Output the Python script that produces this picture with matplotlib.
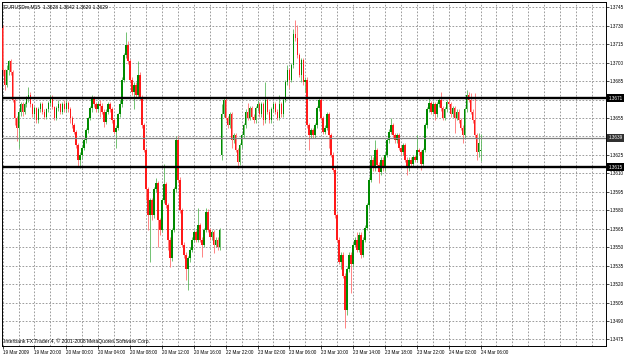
import matplotlib
matplotlib.use("Agg")
import matplotlib.pyplot as plt
import numpy as np

title = "EURUSDm,M15  1.3628 1.3642 1.3620 1.3629"
footer = "Interbank FX Trader 4, \u00a9 2001-2008 MetaQuotes Software Corp."

time_labels = ["19 Mar 2009", "19 Mar 20:00", "20 Mar 00:00", "20 Mar 04:00",
               "20 Mar 08:00", "20 Mar 12:00", "20 Mar 16:00", "22 Mar 22:00",
               "23 Mar 02:00", "23 Mar 06:00", "23 Mar 10:00", "23 Mar 14:00",
               "23 Mar 18:00", "23 Mar 22:00", "24 Mar 02:00", "24 Mar 06:00"]

# M15 candles
opens = [
    1.3728, 1.3694, 1.3682, 1.3694, 1.3701, 1.3692, 1.3670, 1.3655, 1.3647, 1.3660,
    1.3666, 1.3660, 1.3666, 1.3671, 1.3674, 1.3666, 1.3658, 1.3663, 1.3653, 1.3662,
    1.3666, 1.3660, 1.3656, 1.3662, 1.3667, 1.3672, 1.3664, 1.3655, 1.3663, 1.3666,
    1.3660, 1.3666, 1.3662, 1.3667, 1.3662, 1.3655, 1.3649, 1.3644, 1.3633, 1.3621,
    1.3625, 1.3631, 1.3637, 1.3645, 1.3655, 1.3663, 1.3671, 1.3666, 1.3662, 1.3666,
    1.3665, 1.3660, 1.3652, 1.3660, 1.3666, 1.3662, 1.3653, 1.3644, 1.3647, 1.3658,
    1.3666, 1.3686, 1.3706, 1.3714, 1.3701, 1.3686, 1.3676, 1.3682, 1.3674, 1.3690,
    1.3672, 1.3649, 1.3629, 1.3597, 1.3576, 1.3588, 1.3576, 1.3597, 1.3602, 1.3572,
    1.3564, 1.3588, 1.3601, 1.3584, 1.3556, 1.3541, 1.3564, 1.3597, 1.3637, 1.3605,
    1.3580, 1.3552, 1.3544, 1.3532, 1.3541, 1.3548, 1.3556, 1.3562, 1.3556, 1.3568,
    1.3556, 1.3552, 1.3564, 1.3579, 1.3564, 1.3558, 1.3562, 1.3552, 1.3556, 1.3550,
    1.3625, 1.3658, 1.3670, 1.3655, 1.3649, 1.3658, 1.3637, 1.3641, 1.3629, 1.3619,
    1.3633, 1.3641, 1.3649, 1.3660, 1.3655, 1.3663, 1.3656, 1.3653, 1.3663, 1.3666,
    1.3658, 1.3666, 1.3653, 1.3670, 1.3660, 1.3653, 1.3662, 1.3666, 1.3660, 1.3655,
    1.3666, 1.3658, 1.3670, 1.3684, 1.3694, 1.3686, 1.3698, 1.3723, 1.3720, 1.3706,
    1.3690, 1.3702, 1.3684, 1.3686, 1.3649, 1.3641, 1.3645, 1.3641, 1.3649, 1.3663,
    1.3670, 1.3655, 1.3644, 1.3647, 1.3658, 1.3641, 1.3625, 1.3613, 1.3576, 1.3556,
    1.3538, 1.3544, 1.3527, 1.3499, 1.3532, 1.3544, 1.3536, 1.3552, 1.3556, 1.3548,
    1.3560, 1.3544, 1.3556, 1.3566, 1.3584, 1.3605, 1.3621, 1.3614, 1.3629, 1.3617,
    1.3611, 1.3621, 1.3614, 1.3625, 1.3637, 1.3644, 1.3649, 1.3641, 1.3637, 1.3641,
    1.3631, 1.3627, 1.3633, 1.3621, 1.3614, 1.3621, 1.3618, 1.3623, 1.3621, 1.3629,
    1.3627, 1.3618, 1.3629, 1.3649, 1.3662, 1.3667, 1.3660, 1.3666, 1.3658, 1.3666,
    1.3670, 1.3663, 1.3655, 1.3662, 1.3668, 1.3666, 1.3658, 1.3663, 1.3655, 1.3660,
    1.3653, 1.3647, 1.3641, 1.3662, 1.3674, 1.3670, 1.3660, 1.3653, 1.3641, 1.3627,
    1.3628]
highs = [
    1.3731, 1.3695, 1.3698, 1.3702, 1.3703, 1.3694, 1.3672, 1.3657, 1.3662, 1.3668,
    1.3668, 1.3668, 1.3673, 1.3680, 1.3676, 1.3667, 1.3665, 1.3664, 1.3664, 1.3668,
    1.3668, 1.3662, 1.3663, 1.3669, 1.3674, 1.3674, 1.3665, 1.3665, 1.3670, 1.3667,
    1.3668, 1.3670, 1.3670, 1.3669, 1.3664, 1.3657, 1.3651, 1.3645, 1.3635, 1.3627,
    1.3633, 1.3639, 1.3647, 1.3656, 1.3665, 1.3674, 1.3673, 1.3668, 1.3669, 1.3670,
    1.3667, 1.3662, 1.3662, 1.3668, 1.3668, 1.3664, 1.3655, 1.3649, 1.3659, 1.3670,
    1.3688, 1.3708, 1.3725, 1.3718, 1.3703, 1.3688, 1.3684, 1.3684, 1.3701, 1.3692,
    1.3674, 1.3651, 1.3631, 1.3599, 1.3590, 1.3590, 1.3599, 1.3606, 1.3604, 1.3574,
    1.3590, 1.3618, 1.3603, 1.3586, 1.3558, 1.3566, 1.3599, 1.3640, 1.3640, 1.3607,
    1.3582, 1.3554, 1.3546, 1.3543, 1.3550, 1.3558, 1.3564, 1.3564, 1.3582, 1.3570,
    1.3558, 1.3566, 1.3582, 1.3581, 1.3566, 1.3564, 1.3564, 1.3558, 1.3558, 1.3566,
    1.3666, 1.3672, 1.3672, 1.3657, 1.3660, 1.3660, 1.3643, 1.3643, 1.3631, 1.3635,
    1.3643, 1.3651, 1.3662, 1.3667, 1.3665, 1.3665, 1.3658, 1.3665, 1.3670, 1.3668,
    1.3668, 1.3668, 1.3684, 1.3672, 1.3662, 1.3664, 1.3668, 1.3668, 1.3662, 1.3674,
    1.3668, 1.3672, 1.3686, 1.3698, 1.3696, 1.3700, 1.3727, 1.3735, 1.3731, 1.3708,
    1.3704, 1.3704, 1.3688, 1.3688, 1.3651, 1.3647, 1.3647, 1.3651, 1.3665, 1.3672,
    1.3672, 1.3657, 1.3649, 1.3660, 1.3660, 1.3643, 1.3627, 1.3615, 1.3578, 1.3558,
    1.3546, 1.3546, 1.3529, 1.3534, 1.3546, 1.3546, 1.3554, 1.3558, 1.3562, 1.3562,
    1.3562, 1.3558, 1.3568, 1.3586, 1.3607, 1.3625, 1.3623, 1.3637, 1.3631, 1.3619,
    1.3623, 1.3623, 1.3627, 1.3639, 1.3646, 1.3655, 1.3651, 1.3643, 1.3643, 1.3643,
    1.3633, 1.3635, 1.3635, 1.3623, 1.3623, 1.3623, 1.3625, 1.3625, 1.3641, 1.3631,
    1.3629, 1.3631, 1.3651, 1.3664, 1.3671, 1.3669, 1.3668, 1.3668, 1.3668, 1.3672,
    1.3676, 1.3665, 1.3664, 1.3670, 1.3672, 1.3668, 1.3665, 1.3665, 1.3662, 1.3662,
    1.3655, 1.3649, 1.3664, 1.3678, 1.3676, 1.3675, 1.3662, 1.3675, 1.3643, 1.3643,
    1.3642]
lows = [
    1.3690, 1.3678, 1.3680, 1.3690, 1.3690, 1.3668, 1.3649, 1.3636, 1.3631, 1.3657,
    1.3657, 1.3658, 1.3664, 1.3668, 1.3664, 1.3656, 1.3655, 1.3651, 1.3651, 1.3660,
    1.3658, 1.3654, 1.3654, 1.3660, 1.3665, 1.3662, 1.3653, 1.3653, 1.3661, 1.3658,
    1.3658, 1.3660, 1.3660, 1.3660, 1.3651, 1.3647, 1.3642, 1.3631, 1.3615, 1.3614,
    1.3622, 1.3629, 1.3635, 1.3643, 1.3653, 1.3660, 1.3664, 1.3660, 1.3660, 1.3656,
    1.3658, 1.3648, 1.3650, 1.3658, 1.3660, 1.3651, 1.3642, 1.3631, 1.3645, 1.3656,
    1.3664, 1.3684, 1.3704, 1.3699, 1.3684, 1.3674, 1.3662, 1.3671, 1.3672, 1.3670,
    1.3647, 1.3627, 1.3588, 1.3564, 1.3538, 1.3572, 1.3574, 1.3595, 1.3550, 1.3560,
    1.3562, 1.3586, 1.3582, 1.3548, 1.3534, 1.3539, 1.3562, 1.3595, 1.3603, 1.3578,
    1.3550, 1.3541, 1.3523, 1.3515, 1.3538, 1.3546, 1.3554, 1.3554, 1.3554, 1.3554,
    1.3542, 1.3550, 1.3562, 1.3562, 1.3556, 1.3556, 1.3545, 1.3550, 1.3548, 1.3548,
    1.3621, 1.3656, 1.3653, 1.3647, 1.3647, 1.3631, 1.3635, 1.3627, 1.3614, 1.3617,
    1.3631, 1.3639, 1.3647, 1.3653, 1.3653, 1.3654, 1.3651, 1.3651, 1.3661, 1.3656,
    1.3656, 1.3649, 1.3651, 1.3658, 1.3651, 1.3651, 1.3660, 1.3658, 1.3653, 1.3653,
    1.3656, 1.3656, 1.3668, 1.3682, 1.3679, 1.3684, 1.3696, 1.3718, 1.3704, 1.3688,
    1.3684, 1.3682, 1.3676, 1.3647, 1.3629, 1.3639, 1.3639, 1.3639, 1.3647, 1.3661,
    1.3653, 1.3642, 1.3642, 1.3645, 1.3631, 1.3623, 1.3611, 1.3574, 1.3554, 1.3536,
    1.3532, 1.3525, 1.3484, 1.3495, 1.3530, 1.3513, 1.3534, 1.3550, 1.3546, 1.3546,
    1.3541, 1.3542, 1.3554, 1.3564, 1.3582, 1.3603, 1.3612, 1.3612, 1.3615, 1.3602,
    1.3609, 1.3612, 1.3612, 1.3623, 1.3635, 1.3642, 1.3639, 1.3635, 1.3635, 1.3629,
    1.3625, 1.3625, 1.3619, 1.3609, 1.3612, 1.3616, 1.3616, 1.3619, 1.3619, 1.3625,
    1.3613, 1.3616, 1.3627, 1.3647, 1.3660, 1.3658, 1.3658, 1.3653, 1.3656, 1.3664,
    1.3661, 1.3653, 1.3653, 1.3660, 1.3664, 1.3656, 1.3656, 1.3643, 1.3653, 1.3651,
    1.3645, 1.3635, 1.3639, 1.3660, 1.3668, 1.3658, 1.3651, 1.3639, 1.3621, 1.3623,
    1.3620]
closes = [
    1.3694, 1.3682, 1.3694, 1.3701, 1.3692, 1.3670, 1.3655, 1.3647, 1.3660, 1.3666,
    1.3660, 1.3666, 1.3671, 1.3674, 1.3666, 1.3658, 1.3663, 1.3653, 1.3662, 1.3666,
    1.3660, 1.3656, 1.3662, 1.3667, 1.3672, 1.3664, 1.3655, 1.3663, 1.3666, 1.3660,
    1.3666, 1.3662, 1.3667, 1.3662, 1.3655, 1.3649, 1.3644, 1.3633, 1.3621, 1.3625,
    1.3631, 1.3637, 1.3645, 1.3655, 1.3663, 1.3671, 1.3666, 1.3662, 1.3666, 1.3665,
    1.3660, 1.3652, 1.3660, 1.3666, 1.3662, 1.3653, 1.3644, 1.3647, 1.3658, 1.3666,
    1.3686, 1.3706, 1.3714, 1.3701, 1.3686, 1.3676, 1.3682, 1.3674, 1.3690, 1.3672,
    1.3649, 1.3629, 1.3597, 1.3576, 1.3588, 1.3576, 1.3597, 1.3602, 1.3572, 1.3564,
    1.3588, 1.3601, 1.3584, 1.3556, 1.3541, 1.3564, 1.3597, 1.3637, 1.3605, 1.3580,
    1.3552, 1.3544, 1.3532, 1.3541, 1.3548, 1.3556, 1.3562, 1.3556, 1.3568, 1.3556,
    1.3552, 1.3564, 1.3579, 1.3564, 1.3558, 1.3562, 1.3552, 1.3556, 1.3550, 1.3564,
    1.3658, 1.3670, 1.3655, 1.3649, 1.3658, 1.3637, 1.3641, 1.3629, 1.3619, 1.3633,
    1.3641, 1.3649, 1.3660, 1.3655, 1.3663, 1.3656, 1.3653, 1.3663, 1.3666, 1.3658,
    1.3666, 1.3653, 1.3670, 1.3660, 1.3653, 1.3662, 1.3666, 1.3660, 1.3655, 1.3666,
    1.3658, 1.3670, 1.3684, 1.3694, 1.3686, 1.3698, 1.3723, 1.3720, 1.3706, 1.3690,
    1.3702, 1.3684, 1.3686, 1.3649, 1.3641, 1.3645, 1.3641, 1.3649, 1.3663, 1.3670,
    1.3655, 1.3644, 1.3647, 1.3658, 1.3641, 1.3625, 1.3613, 1.3576, 1.3556, 1.3538,
    1.3544, 1.3527, 1.3499, 1.3532, 1.3544, 1.3536, 1.3552, 1.3556, 1.3548, 1.3560,
    1.3544, 1.3556, 1.3566, 1.3584, 1.3605, 1.3621, 1.3614, 1.3629, 1.3617, 1.3611,
    1.3621, 1.3614, 1.3625, 1.3637, 1.3644, 1.3649, 1.3641, 1.3637, 1.3641, 1.3631,
    1.3627, 1.3633, 1.3621, 1.3614, 1.3621, 1.3618, 1.3623, 1.3621, 1.3629, 1.3627,
    1.3618, 1.3629, 1.3649, 1.3662, 1.3667, 1.3660, 1.3666, 1.3658, 1.3666, 1.3670,
    1.3663, 1.3655, 1.3662, 1.3668, 1.3666, 1.3658, 1.3663, 1.3655, 1.3660, 1.3653,
    1.3647, 1.3641, 1.3662, 1.3674, 1.3670, 1.3660, 1.3653, 1.3641, 1.3627, 1.3635,
    1.3629]

resistance = 1.3671
support = 1.3615
bid = 1.3639

price_ticks = [1.3475 + 0.0015 * k for k in range(19)]

plt.rcParams['font.family'] = ['Liberation Sans', 'DejaVu Sans']
FS = 3.3

o = np.array(opens)
h = np.array(highs)
l = np.array(lows)
c = np.array(closes)
x = np.arange(len(c))
up = c >= o
dn = ~up

fig = plt.figure(figsize=(6.25, 3.55), dpi=100)
ax = fig.add_axes([2 / 625, 9 / 355, 604 / 625, 344 / 355])
ax.set_xlim(-0.3, 303)
ax.set_ylim(1.34697, 1.37493)

# candles
ax.vlines(x[up], l[up], h[up], colors='#5cb85c', lw=0.6, zorder=3)
ax.vlines(x[dn], l[dn], h[dn], colors='#ff7070', lw=0.6, zorder=3)
body = np.maximum(np.abs(c - o), 0.00004)
ax.bar(x[up], body[up], bottom=o[up], width=0.8, color='#008a00', lw=0, zorder=4)
ax.bar(x[dn], body[dn], bottom=c[dn], width=0.8, color='#ff1a1a', lw=0, zorder=4)

# level lines
ax.axhline(resistance, color='black', lw=1.7, zorder=5)
ax.axhline(support, color='black', lw=1.7, zorder=5)
ax.axhline(bid, color='#808080', lw=0.9, zorder=5)

# grid
ax.set_yticks(price_ticks)
ax.set_yticklabels(["" if abs(p - resistance) < 0.0003 or abs(p - bid) < 0.0003
                    else "%.4f" % p for p in price_ticks])
ax.set_xticks(range(0, 16 * len(time_labels), 16))
ax.set_xticklabels(time_labels, ha='left')
ax.set_xticks(range(8, 304, 8), minor=True)
ax.grid(True, which='both', color='#8c8c8c', lw=0.6, ls=(0, (2, 2)), zorder=0)

ax.yaxis.tick_right()
ax.tick_params(axis='y', which='major', labelsize=FS, length=2, width=0.5, pad=1)
ax.tick_params(axis='x', which='major', labelsize=FS, length=2, width=0.5, pad=1)
ax.tick_params(axis='x', which='minor', length=0)
for s in ax.spines.values():
    s.set_linewidth(0.7)
    s.set_color('black')

# price boxes on the axis
for val, fc in [(resistance, 'black'), (bid, '#303030'), (support, 'black')]:
    ax.text(1.004, val, "%.4f" % val, transform=ax.get_yaxis_transform(),
            ha='left', va='center', fontsize=FS, color='white', clip_on=False,
            bbox=dict(boxstyle='square,pad=0.3', fc=fc, ec='none'))

ax.text(0.003, 0.992, title, transform=ax.transAxes, ha='left', va='top', fontsize=3.6)
ax.text(0.003, 0.006, footer, transform=ax.transAxes, ha='left', va='bottom', fontsize=3.6)

fig.savefig('out.png', dpi=100, facecolor='white')
